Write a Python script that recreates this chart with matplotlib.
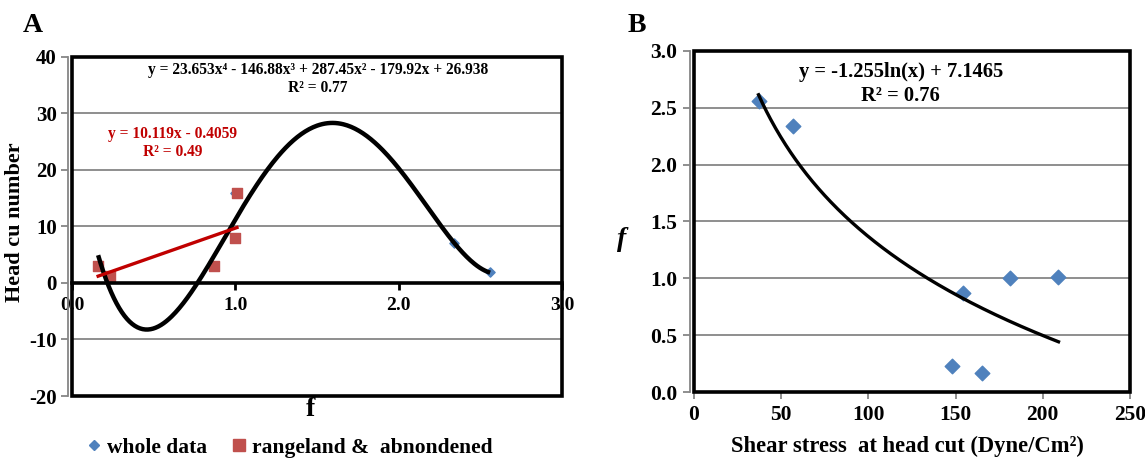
import numpy as np
import matplotlib
matplotlib.use("Agg")
import matplotlib.pyplot as plt
from matplotlib.patches import Rectangle
from matplotlib.lines import Line2D

plt.rcParams['font.family'] = ['Liberation Serif', 'DejaVu Serif']
plt.rcParams['font.weight'] = 'bold'

# ---------------- Data ----------------
# Panel A: f vs head cut number
f_whole = [0.16, 0.23, 0.87, 1.00, 1.00, 2.34, 2.56]
head_whole = [3, 1.2, 3, 8, 16, 7, 2]
f_range = [0.16, 0.23, 0.87, 1.00, 1.01]
head_range = [3, 1.2, 3, 8, 16]
poly_coef = [23.653, -146.88, 287.45, -179.92, 26.938]   # shown trendline
poly_xrange = [0.16, 2.56]
lin_coef = [10.119, -0.4059]
lin_xrange = [0.16, 1.01]

# Panel B: shear stress vs f
shear = [37, 57, 154, 181, 209, 148, 165]
f_b = [2.56, 2.34, 0.87, 1.00, 1.01, 0.23, 0.17]
log_coef = [-1.255, 7.1465]
log_xrange = [37, 209]

a_xticks = [0.0, 1.0, 2.0, 3.0]
a_xticklabels = ['0.0', '1.0', '2.0', '3.0']
a_yticks = [-20, -10, 0, 10, 20, 30, 40]
b_xticks = [0, 50, 100, 150, 200, 250]
b_yticks = [0.0, 0.5, 1.0, 1.5, 2.0, 2.5, 3.0]

BLUE = '#4F81BD'
RED = '#C0504D'
DRED = '#C00000'
GRID = '#868686'

W, H = 1145, 461
fig = plt.figure(figsize=(W / 100, H / 100), dpi=100)

def frame(ax):
    r = Rectangle((0, 0), 1, 1, transform=ax.transAxes, fill=False,
                  edgecolor='black', lw=2.6, zorder=6, clip_on=False)
    ax.add_patch(r)

# ---------------- Panel A ----------------
axA = fig.add_axes([72 / W, 1 - 396 / H, 490 / W, 339 / H])
for s in ['top', 'right']:
    axA.spines[s].set_visible(False)
axA.spines['left'].set_position(('outward', 3))
axA.spines['bottom'].set_position(('data', 0))
axA.spines['left'].set_color(GRID)
axA.spines['left'].set_linewidth(1.3)
axA.spines['bottom'].set_linewidth(2.6)
axA.spines['bottom'].set_zorder(5)
axA.set_xlim(0, 3)
axA.set_ylim(-20, 40)
axA.set_yticks(a_yticks)
axA.set_yticklabels([str(v) for v in a_yticks])
axA.set_xticks(a_xticks)
axA.set_xticklabels(a_xticklabels)
for v in [10, 20, 30, -10]:
    axA.axhline(v, color=GRID, lw=1.3, zorder=1)
axA.tick_params(axis='y', direction='out', length=5, width=1.3, color=GRID,
                pad=3, labelsize=15)
axA.tick_params(axis='x', direction='out', length=5, width=2, color='black',
                pad=5, labelsize=14)
frame(axA)

axA.scatter(f_whole, head_whole, marker='D', s=22, color=BLUE, zorder=3)
axA.scatter(f_range, head_range, marker='s', s=55, color=RED, zorder=3)
xp = np.linspace(poly_xrange[0], poly_xrange[1], 300)
axA.plot(xp, np.polyval(poly_coef, xp), color='black', lw=3.2, zorder=4,
         solid_capstyle='butt')
xl = np.array(lin_xrange)
axA.plot(xl, np.polyval(lin_coef, xl), color=DRED, lw=2.4, zorder=4)

axA.text(0.502, 0.962, 'y = 23.653x⁴ - 146.88x³ + 287.45x² - 179.92x + 26.938',
         transform=axA.transAxes, ha='center', va='center', fontsize=11.2,
         fontweight='bold')
axA.text(0.502, 0.909, 'R² = 0.77', transform=axA.transAxes, ha='center',
         va='center', fontsize=11.2, fontweight='bold')
axA.text(0.206, 0.773, 'y = 10.119x - 0.4059', transform=axA.transAxes,
         ha='center', va='center', fontsize=11.2, fontweight='bold', color=DRED)
axA.text(0.206, 0.72, 'R² = 0.49', transform=axA.transAxes,
         ha='center', va='center', fontsize=11.2, fontweight='bold', color=DRED)

axA.text(-0.116, 0.513, 'Head cu number', transform=axA.transAxes, rotation=90,
         ha='center', va='center', fontsize=16, fontweight='bold')
axA.text(0.486, -0.041, 'f', transform=axA.transAxes, ha='center', va='center',
         fontsize=20, fontweight='bold')

fig.text(33 / W, 1 - 25 / H, 'A', ha='center', va='center', fontsize=20,
         fontweight='bold')

handles = [Line2D([], [], marker='D', color=BLUE, ls='none', markersize=5),
           Line2D([], [], marker='s', color=RED, ls='none', markersize=8)]
fig.legend(handles, ['whole data', 'rangeland &  abnondened'], loc='center',
           bbox_to_anchor=(288 / W, 1 - 448 / H), ncol=2, frameon=False,
           prop={'size': 15.5, 'weight': 'bold'}, handletextpad=0.1,
           columnspacing=1.0, handlelength=1.0)

# ---------------- Panel B ----------------
axB = fig.add_axes([694 / W, 1 - 392 / H, 436 / W, 341 / H])
for s in ['top', 'right']:
    axB.spines[s].set_visible(False)
axB.spines['left'].set_position(('outward', 3))
axB.spines['left'].set_color(GRID)
axB.spines['left'].set_linewidth(1.3)
axB.spines['bottom'].set_color(GRID)
axB.spines['bottom'].set_linewidth(1.3)
axB.set_xlim(0, 250)
axB.set_ylim(0, 3)
axB.set_xticks(b_xticks)
axB.set_xticklabels([str(v) for v in b_xticks])
axB.set_yticks(b_yticks)
axB.set_yticklabels([f'{v:.1f}' for v in b_yticks])
for v in [0.5, 1.0, 1.5, 2.0, 2.5]:
    axB.axhline(v, color=GRID, lw=1.3, zorder=1)
axB.tick_params(direction='out', length=5, width=1.3, color=GRID, pad=4,
                labelsize=15.5)
frame(axB)

axB.scatter(shear, f_b, marker='D', s=55, color=BLUE, zorder=3)
xs = np.linspace(log_xrange[0], log_xrange[1], 300)
axB.plot(xs, log_coef[0] * np.log(xs) + log_coef[1], color='black', lw=2.4,
         zorder=4)

axB.text(0.475, 0.938, 'y = -1.255ln(x) + 7.1465', transform=axB.transAxes,
         ha='center', va='center', fontsize=14.8, fontweight='bold')
axB.text(0.474, 0.868, 'R² = 0.76', transform=axB.transAxes,
         ha='center', va='center', fontsize=14.8, fontweight='bold')
axB.text(-0.165, 0.446, 'f', transform=axB.transAxes, ha='center', va='center',
         fontsize=20, fontweight='bold', style='italic')
axB.text(0.489, -0.161, 'Shear stress  at head cut (Dyne/Cm²)',
         transform=axB.transAxes, ha='center', va='center', fontsize=16.3,
         fontweight='bold')

fig.text(637 / W, 1 - 25 / H, 'B', ha='center', va='center', fontsize=20,
         fontweight='bold')

fig.savefig('out.png', dpi=100)
